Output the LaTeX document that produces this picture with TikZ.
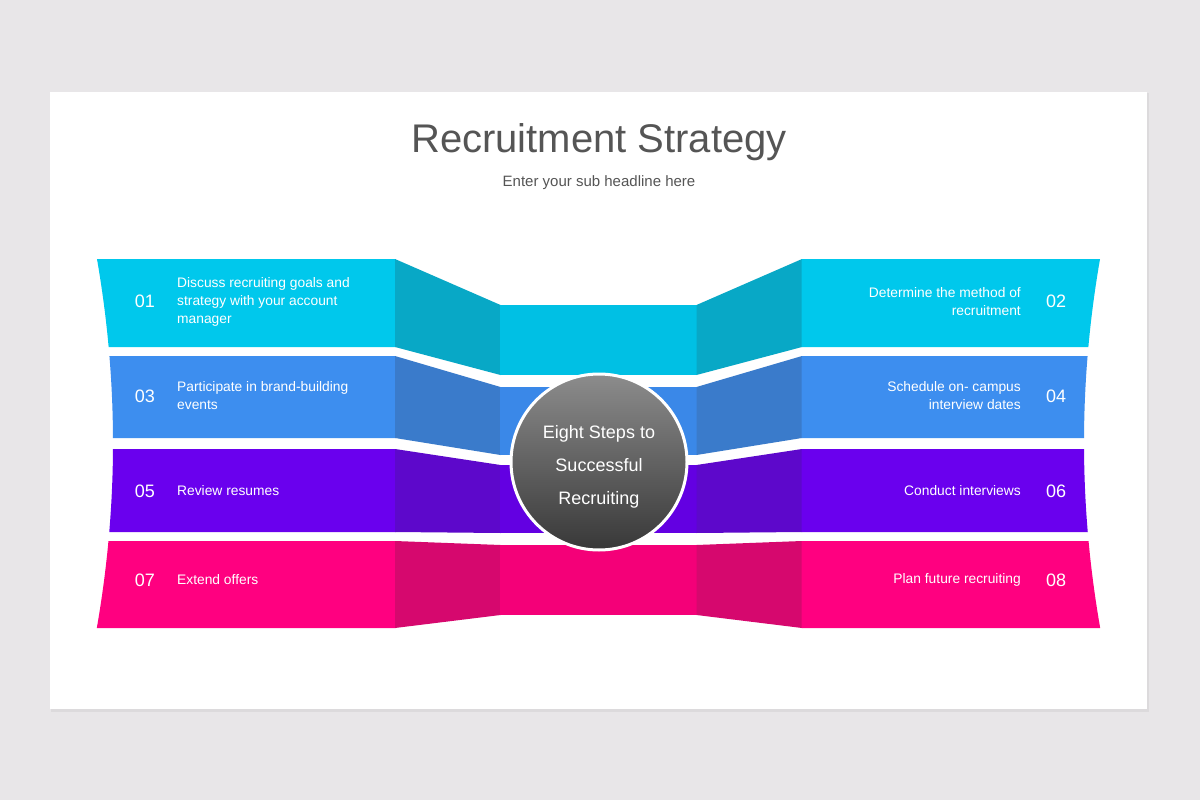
\documentclass[tikz,border=0pt]{standalone}
\usepackage{fontspec}
\setmainfont{Liberation Sans}
\definecolor{bg}{HTML}{E8E6E8}
\definecolor{shadowc}{HTML}{DCDADC}
\definecolor{titlec}{HTML}{555555}
\definecolor{c1o}{HTML}{00C8EC}\definecolor{c1s}{HTML}{08A8C6}\definecolor{c1c}{HTML}{00C0E4}
\definecolor{c2o}{HTML}{3D8EEF}\definecolor{c2s}{HTML}{3A7BCB}\definecolor{c2c}{HTML}{3A88E8}
\definecolor{c3o}{HTML}{6A00EE}\definecolor{c3s}{HTML}{5D08CB}\definecolor{c3c}{HTML}{6300E2}
\definecolor{c4o}{HTML}{FF0080}\definecolor{c4s}{HTML}{D6086E}\definecolor{c4c}{HTML}{F40078}
\definecolor{hubtop}{HTML}{8C8C8C}\definecolor{hubbot}{HTML}{383838}
\tikzset{
  numlbl/.style={text=white,font=\fontsize{18}{18}\selectfont,inner sep=0pt},
  leftlbl/.style={text=white,font=\fontsize{13.8}{18}\selectfont,align=left,anchor=west,inner sep=0pt},
  rightlbl/.style={text=white,font=\fontsize{13.8}{18}\selectfont,align=right,anchor=east,inner sep=0pt},
}
% left edge curve x(y)
\newcommand{\lx}[1]{(113-4.73*((#1-443)/100)*((#1-443)/100))}
\newcommand{\rx}[1]{(1084+4.73*((#1-443)/100)*((#1-443)/100))}
% band: #1 outer top, #2 outer bottom, #3 center top, #4 center bottom, #5 colour prefix
\newcommand{\bandshape}[5]{%
  \fill[#5o] plot[domain=#1:#2,variable=\t,samples=20] ({\lx{\t}},\t) -- (395.5,#2) -- (395.5,#1) -- cycle;
  \fill[#5s] (395,#1) -- (500.5,#3) -- (500.5,#4) -- (395,#2) -- cycle;
  \fill[#5c] (500,#3) -- (697,#3) -- (697,#4) -- (500,#4) -- cycle;
  \fill[#5s] (696.5,#3) -- (802,#1) -- (802,#2) -- (696.5,#4) -- cycle;
  \fill[#5o] plot[domain=#1:#2,variable=\t,samples=20] ({\rx{\t}},\t) -- (801.5,#2) -- (801.5,#1) -- cycle;
}
\begin{document}
\begin{tikzpicture}[x=1pt,y=-1pt]
\useasboundingbox (0,0) rectangle (1200,800);
\fill[bg] (0,0) rectangle (1200,800);
\fill[shadowc] (51,93) rectangle (1149,712);
\fill[white] (50,92) rectangle (1147,709);

\node[text=titlec,font=\fontsize{40}{40}\selectfont] (title) at (599,142) {Recruitment Strategy};
\node[text=titlec,font=\fontsize{15}{15}\selectfont] (subtitle) at (599,183) {Enter your sub headline here};

\bandshape{259}{347}{305}{375}{c1}
\bandshape{356}{438}{387}{455}{c2}
\bandshape{449}{532}{465}{533}{c3}
\bandshape{541}{628}{545}{615}{c4}

\node[circle,minimum size=176pt,inner sep=0pt,draw=white,line width=3pt,top color=hubtop,bottom color=hubbot] (hub) at (599,462) {};
\node[text=white,font=\fontsize{18}{33}\selectfont,align=center] (hubtext) at (599,467) {Eight Steps to\\Successful\\Recruiting};

\node[numlbl] (n1) at (145,301) {01};
\node[leftlbl] (t1) at (177,302) {Discuss recruiting goals and\\strategy with your account\\manager};
\node[numlbl] (n2) at (1056,301) {02};
\node[rightlbl] (t2) at (1021,302) {Determine the method of\\recruitment};
\node[numlbl] (n3) at (145,396) {03};
\node[leftlbl] (t3) at (177,396) {Participate in brand-building\\events};
\node[numlbl] (n4) at (1056,396) {04};
\node[rightlbl] (t4) at (1021,396) {Schedule on- campus\\interview dates};
\node[numlbl] (n5) at (145,491) {05};
\node[leftlbl] (t5) at (177,491) {Review resumes};
\node[numlbl] (n6) at (1056,491) {06};
\node[rightlbl] (t6) at (1021,491) {Conduct interviews};
\node[numlbl] (n7) at (145,580) {07};
\node[leftlbl] (t7) at (177,580) {Extend offers};
\node[numlbl] (n8) at (1056,580) {08};
\node[rightlbl] (t8) at (1021,580) {Plan future recruiting};
\end{tikzpicture}
\end{document}
